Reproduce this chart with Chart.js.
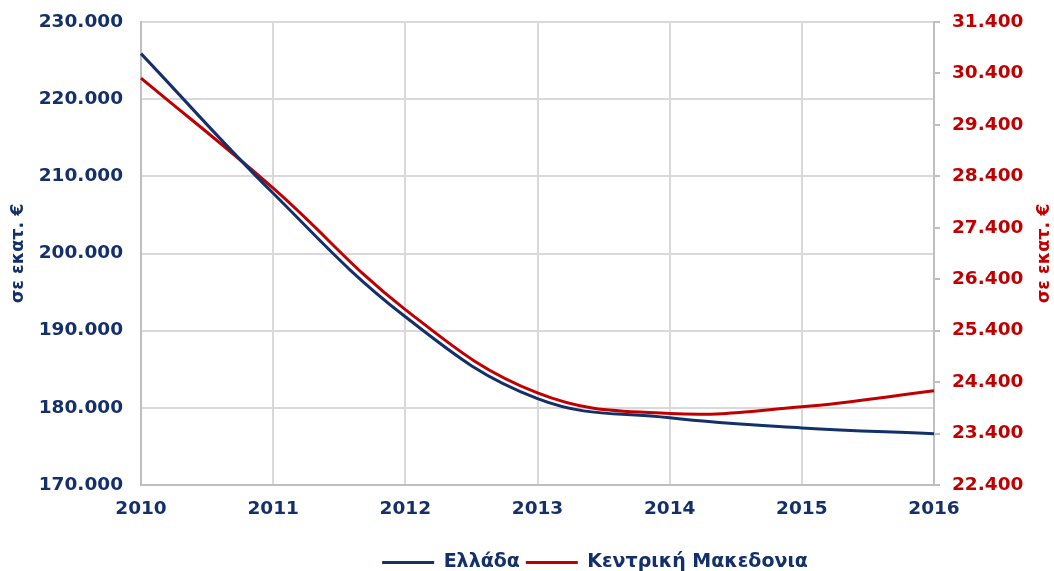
<!DOCTYPE html>
<html>
<head>
<meta charset="utf-8">
<script src="https://cdn.jsdelivr.net/npm/chart.js@4/dist/chart.umd.min.js"></script>
<style>
  html, body { margin: 0; padding: 0; background: #fff; overflow: hidden; }
  #wrap { width: 1054px; height: 582px; }
</style>
</head>
<body>
<div id="wrap"><canvas id="chart"></canvas></div>
<script>
// δεδομένα (σε εκατ. €)
const years = ['2010', '2011', '2012', '2013', '2014', '2015', '2016'];
const greece = [225900, 207800, 191800, 181200, 178700, 177400, 176650];
const centralMacedonia = [30310, 28170, 25810, 24190, 23790, 23920, 24230];
const seriesNames = ['Ελλάδα', 'Κεντρική Μακεδονια'];
const axisTitle = 'σε εκατ. €';

const NAVY = '#13306b';
const RED = '#c00000';
const FONT = '"DejaVu Sans", Verdana, sans-serif';

// μορφή 230.000
function fmt(v) {
  return Math.round(v).toString().replace(/\B(?=(\d{3})+(?!\d))/g, '.');
}

// χωρίς επιπλέον κενό πάνω/κάτω από τις ετικέτες των αξόνων
function fixPadding(scale) {
  scale.paddingTop = 0;
  scale.paddingBottom = 0;
}

// τίτλος δεξιού άξονα (διαβάζεται από κάτω προς τα πάνω)
const rightTitle = {
  id: 'rightTitle',
  afterLayout(chart) {
    // το υπόμνημα είναι λίγο πιο δεξιά στο πρωτότυπο
    chart.legend.left += 68;
    chart.legend.right += 68;
  },
  afterDraw(chart) {
    const ctx = chart.ctx;
    const area = chart.chartArea;
    ctx.save();
    ctx.translate(1044, (area.top + area.bottom) / 2);
    ctx.rotate(-Math.PI / 2);
    ctx.font = 'bold 17.5px ' + FONT;
    ctx.fillStyle = RED;
    ctx.textAlign = 'center';
    ctx.textBaseline = 'middle';
    ctx.fillText(axisTitle, 0, 0);
    ctx.restore();
  }
};

new Chart(document.getElementById('chart'), {
  type: 'line',
  data: {
    labels: years,
    datasets: [{
      label: seriesNames[0],
      data: greece,
      yAxisID: 'y',
      borderColor: NAVY,
      backgroundColor: NAVY,
      borderWidth: 3,
      pointRadius: 0,
      tension: 0.4,
      fill: false
    }, {
      label: seriesNames[1],
      data: centralMacedonia,
      yAxisID: 'y1',
      borderColor: RED,
      backgroundColor: RED,
      borderWidth: 3,
      pointRadius: 0,
      tension: 0.4,
      fill: false
    }]
  },
  options: {
    responsive: true,
    maintainAspectRatio: false,
    animation: false,
    layout: { padding: { top: 22, left: 0, right: 0, bottom: 0 } },
    plugins: {
      legend: {
        position: 'bottom',
        labels: {
          usePointStyle: true,
          pointStyle: 'line',
          pointStyleWidth: 52,
          padding: 6,
          color: NAVY,
          font: { family: FONT, size: 19, weight: 'bold' }
        }
      },
      tooltip: { enabled: false }
    },
    scales: {
      x: {
        grid: { color: '#d9d9d9', lineWidth: 2, drawTicks: false },
        border: { color: '#bfbfbf', width: 2 },
        ticks: {
          color: NAVY,
          padding: 13,
          maxRotation: 0,
          font: { family: FONT, size: 18.5, weight: 'bold' }
        },
        afterFit(scale) { scale.height = 62; }
      },
      y: {
        position: 'left',
        min: 170000,
        max: 230000,
        grid: { color: '#d9d9d9', lineWidth: 2, drawTicks: false },
        border: { color: '#bfbfbf', width: 2 },
        ticks: {
          stepSize: 10000,
          color: NAVY,
          padding: 18,
          font: { family: FONT, size: 18.5, weight: 'bold' },
          callback: v => fmt(v)
        },
        title: {
          display: true,
          text: axisTitle,
          color: NAVY,
          padding: { top: 8, bottom: 0 },
          font: { family: FONT, size: 17.5, weight: 'bold' }
        },
        afterFit(scale) { scale.width = 141; fixPadding(scale); }
      },
      y1: {
        position: 'right',
        min: 22400,
        max: 31400,
        grid: { drawOnChartArea: false, color: '#bfbfbf', lineWidth: 2, tickLength: 6 },
        border: { color: '#bfbfbf', width: 2 },
        ticks: {
          stepSize: 1000,
          color: RED,
          padding: 12,
          font: { family: FONT, size: 18.5, weight: 'bold' },
          callback: v => fmt(v)
        },
        afterFit(scale) { scale.width = 120; fixPadding(scale); }
      }
    }
  },
  plugins: [rightTitle]
});
</script>
</body>
</html>
